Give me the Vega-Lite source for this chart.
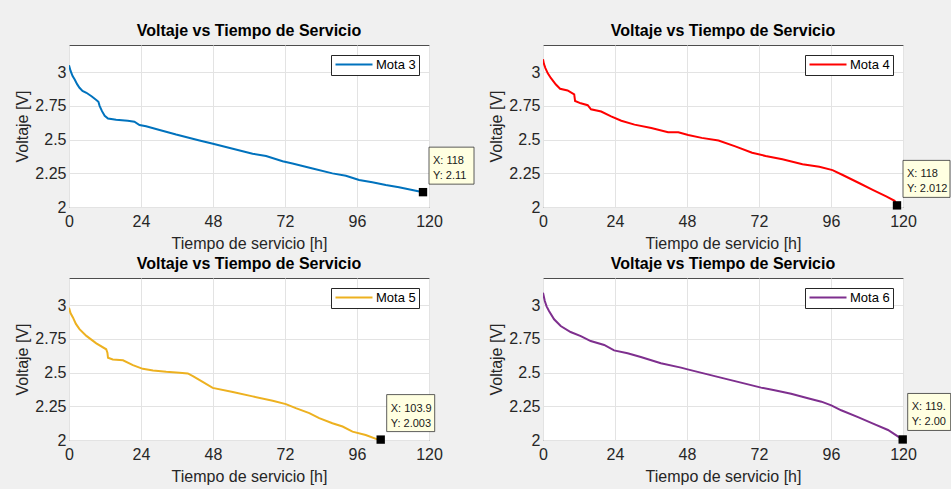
{
  "$schema": "https://vega.github.io/schema/vega-lite/v6.json",
  "background": "#f0f0f0",
  "autosize": {"type": "pad"},
  "padding": {"left": 14, "top": 22, "right": 0, "bottom": 6},
  "columns": 2,
  "spacing": {"row": 71, "column": 114},
  "bounds": "flush",
  "resolve": {"scale": {"color": "independent", "x": "independent", "y": "independent"}, "legend": {"color": "independent"}},
  "datasets": {
    "m3": [
      {"t": 0, "v": 3.05}, {"t": 0.5, "v": 3.01}, {"t": 1.2, "v": 2.97}, {"t": 1.9, "v": 2.944}, {"t": 2.7, "v": 2.91},
      {"t": 3.5, "v": 2.883}, {"t": 4.5, "v": 2.86}, {"t": 5.8, "v": 2.846}, {"t": 7.5, "v": 2.82}, {"t": 9.1, "v": 2.793},
      {"t": 9.8, "v": 2.78}, {"t": 10.2, "v": 2.749}, {"t": 11, "v": 2.71}, {"t": 11.9, "v": 2.676}, {"t": 13, "v": 2.656},
      {"t": 15.7, "v": 2.646}, {"t": 19.6, "v": 2.639}, {"t": 21.8, "v": 2.632}, {"t": 23.5, "v": 2.607}, {"t": 25.7, "v": 2.598},
      {"t": 30.2, "v": 2.571}, {"t": 35.7, "v": 2.537}, {"t": 43.5, "v": 2.493}, {"t": 48, "v": 2.468}, {"t": 54.6, "v": 2.432},
      {"t": 61.2, "v": 2.395}, {"t": 65.7, "v": 2.378}, {"t": 71.2, "v": 2.339}, {"t": 74.5, "v": 2.322}, {"t": 81.2, "v": 2.285},
      {"t": 87.8, "v": 2.249}, {"t": 92.3, "v": 2.232}, {"t": 96.7, "v": 2.2}, {"t": 101.1, "v": 2.183}, {"t": 105.6, "v": 2.163},
      {"t": 110, "v": 2.146}, {"t": 115.6, "v": 2.12}, {"t": 118, "v": 2.11}
    ],
    "m4": [
      {"t": 0, "v": 3.095}, {"t": 0.3, "v": 3.06}, {"t": 0.8, "v": 3.029}, {"t": 1.6, "v": 2.99}, {"t": 2.6, "v": 2.956},
      {"t": 4.3, "v": 2.907}, {"t": 5.7, "v": 2.876}, {"t": 8.2, "v": 2.863}, {"t": 10.4, "v": 2.834}, {"t": 10.7, "v": 2.785},
      {"t": 12.6, "v": 2.768}, {"t": 14.9, "v": 2.754}, {"t": 16, "v": 2.724}, {"t": 19.4, "v": 2.707}, {"t": 22.7, "v": 2.671},
      {"t": 26.1, "v": 2.639}, {"t": 30.5, "v": 2.61}, {"t": 36.1, "v": 2.585}, {"t": 41.7, "v": 2.554}, {"t": 45.1, "v": 2.554},
      {"t": 48.4, "v": 2.534}, {"t": 52.9, "v": 2.512}, {"t": 58.5, "v": 2.493}, {"t": 64.1, "v": 2.449}, {"t": 69.7, "v": 2.402},
      {"t": 74.2, "v": 2.378}, {"t": 79.8, "v": 2.354}, {"t": 86.5, "v": 2.317}, {"t": 92.1, "v": 2.298}, {"t": 96.5, "v": 2.273},
      {"t": 99.9, "v": 2.237}, {"t": 105.5, "v": 2.176}, {"t": 109.9, "v": 2.127}, {"t": 114.4, "v": 2.078}, {"t": 117.2, "v": 2.046},
      {"t": 118, "v": 2.012}
    ],
    "m5": [
      {"t": 0, "v": 2.98}, {"t": 0.5, "v": 2.94}, {"t": 1.3, "v": 2.908}, {"t": 2.3, "v": 2.86}, {"t": 3.5, "v": 2.821},
      {"t": 5.8, "v": 2.771}, {"t": 9.1, "v": 2.716}, {"t": 12.4, "v": 2.672}, {"t": 12.8, "v": 2.647}, {"t": 13, "v": 2.609},
      {"t": 14.6, "v": 2.597}, {"t": 18, "v": 2.59}, {"t": 21.3, "v": 2.555}, {"t": 24.6, "v": 2.527}, {"t": 28, "v": 2.515},
      {"t": 32.4, "v": 2.505}, {"t": 36.8, "v": 2.498}, {"t": 39.6, "v": 2.493}, {"t": 41.3, "v": 2.473}, {"t": 44.7, "v": 2.428},
      {"t": 47.9, "v": 2.386}, {"t": 54.6, "v": 2.356}, {"t": 61.2, "v": 2.323}, {"t": 67.9, "v": 2.291}, {"t": 72.3, "v": 2.266},
      {"t": 75.6, "v": 2.236}, {"t": 80.1, "v": 2.199}, {"t": 83.4, "v": 2.162}, {"t": 87.8, "v": 2.124}, {"t": 91.2, "v": 2.1},
      {"t": 94.5, "v": 2.062}, {"t": 98.9, "v": 2.037}, {"t": 102.8, "v": 2.005}, {"t": 103.9, "v": 2.003}
    ],
    "m6": [
      {"t": 0, "v": 3.091}, {"t": 0.6, "v": 3.03}, {"t": 1.2, "v": 2.99}, {"t": 2, "v": 2.956}, {"t": 3.7, "v": 2.894},
      {"t": 5.9, "v": 2.844}, {"t": 9.2, "v": 2.8}, {"t": 12.6, "v": 2.77}, {"t": 15.9, "v": 2.733}, {"t": 20.4, "v": 2.704},
      {"t": 23.7, "v": 2.664}, {"t": 28.2, "v": 2.642}, {"t": 32.6, "v": 2.615}, {"t": 39.3, "v": 2.568}, {"t": 46, "v": 2.536},
      {"t": 48.2, "v": 2.523}, {"t": 54.9, "v": 2.486}, {"t": 61.6, "v": 2.449}, {"t": 66, "v": 2.425}, {"t": 72.7, "v": 2.388},
      {"t": 77.2, "v": 2.368}, {"t": 82.7, "v": 2.343}, {"t": 88.3, "v": 2.309}, {"t": 92.8, "v": 2.284}, {"t": 96.1, "v": 2.257},
      {"t": 99.4, "v": 2.22}, {"t": 105, "v": 2.17}, {"t": 110.6, "v": 2.116}, {"t": 115, "v": 2.074}, {"t": 118.4, "v": 2.025},
      {"t": 119.9, "v": 2.004}
    ]
  },
  "concat": [
    {
      "width": 360, "height": 162,
      "title": "Voltaje vs Tiempo de Servicio",
      "layer": [
        {"data": {"name": "m3"}, "mark": {"type": "line", "strokeWidth": 2, "clip": true},
         "encoding": {
           "x": {"field": "t", "type": "quantitative", "scale": {"domain": [0, 120], "nice": false}, "axis": {"values": [0, 24, 48, 72, 96, 120], "title": "Tiempo de servicio [h]"}},
           "y": {"field": "v", "type": "quantitative", "scale": {"domain": [2, 3.2], "nice": false, "zero": false}, "axis": {"values": [2, 2.25, 2.5, 2.75, 3], "labelExpr": "toString(datum.value)", "title": "Voltaje [V]"}},
           "color": {"datum": "Mota 3", "type": "nominal", "scale": {"range": ["#0072BD"]}}
         }},
        {"data": {"values": [{"t": 118, "v": 2.11, "label": "X: 118\nY: 2.11"}]},
         "mark": {"type": "point", "shape": "M6,-45H51V-8H6Z", "size": 4, "filled": true, "fill": "#ffffe1", "stroke": "#333333", "strokeWidth": 0.8, "opacity": 1},
         "encoding": {"x": {"field": "t", "type": "quantitative"}, "y": {"field": "v", "type": "quantitative"}}},
        {"data": {"values": [{"t": 118, "v": 2.11, "label": "X: 118\nY: 2.11"}]},
         "mark": {"type": "square", "size": 70, "color": "black", "opacity": 1},
         "encoding": {"x": {"field": "t", "type": "quantitative"}, "y": {"field": "v", "type": "quantitative"}}},
        {"data": {"values": [{"t": 118, "v": 2.11, "label": "X: 118\nY: 2.11"}]},
         "mark": {"type": "text", "align": "left", "baseline": "alphabetic", "dx": 10, "dy": -28, "fontSize": 11, "lineHeight": 15, "lineBreak": "\n", "font": "Liberation Sans", "color": "#1a1a1a"},
         "encoding": {"x": {"field": "t", "type": "quantitative"}, "y": {"field": "v", "type": "quantitative"}, "text": {"field": "label"}}}
      ]
    },
    {
      "width": 360, "height": 162,
      "title": "Voltaje vs Tiempo de Servicio",
      "layer": [
        {"data": {"name": "m4"}, "mark": {"type": "line", "strokeWidth": 2, "clip": true},
         "encoding": {
           "x": {"field": "t", "type": "quantitative", "scale": {"domain": [0, 120], "nice": false}, "axis": {"values": [0, 24, 48, 72, 96, 120], "title": "Tiempo de servicio [h]"}},
           "y": {"field": "v", "type": "quantitative", "scale": {"domain": [2, 3.2], "nice": false, "zero": false}, "axis": {"values": [2, 2.25, 2.5, 2.75, 3], "labelExpr": "toString(datum.value)", "title": "Voltaje [V]"}},
           "color": {"datum": "Mota 4", "type": "nominal", "scale": {"range": ["#FF0000"]}}
         }},
        {"data": {"values": [{"t": 118, "v": 2.012, "label": "X: 118\nY: 2.012"}]},
         "mark": {"type": "point", "shape": "M6,-45H53V-8H6Z", "size": 4, "filled": true, "fill": "#ffffe1", "stroke": "#333333", "strokeWidth": 0.8, "opacity": 1},
         "encoding": {"x": {"field": "t", "type": "quantitative"}, "y": {"field": "v", "type": "quantitative"}}},
        {"data": {"values": [{"t": 118, "v": 2.012, "label": "X: 118\nY: 2.012"}]},
         "mark": {"type": "square", "size": 70, "color": "black", "opacity": 1},
         "encoding": {"x": {"field": "t", "type": "quantitative"}, "y": {"field": "v", "type": "quantitative"}}},
        {"data": {"values": [{"t": 118, "v": 2.012, "label": "X: 118\nY: 2.012"}]},
         "mark": {"type": "text", "align": "left", "baseline": "alphabetic", "dx": 10, "dy": -28, "fontSize": 11, "lineHeight": 15, "lineBreak": "\n", "font": "Liberation Sans", "color": "#1a1a1a", "limit": 43, "ellipsis": "\u200b"},
         "encoding": {"x": {"field": "t", "type": "quantitative"}, "y": {"field": "v", "type": "quantitative"}, "text": {"field": "label"}}}
      ]
    },
    {
      "width": 360, "height": 162,
      "title": "Voltaje vs Tiempo de Servicio",
      "layer": [
        {"data": {"name": "m5"}, "mark": {"type": "line", "strokeWidth": 2, "clip": true},
         "encoding": {
           "x": {"field": "t", "type": "quantitative", "scale": {"domain": [0, 120], "nice": false}, "axis": {"values": [0, 24, 48, 72, 96, 120], "title": "Tiempo de servicio [h]"}},
           "y": {"field": "v", "type": "quantitative", "scale": {"domain": [2, 3.2], "nice": false, "zero": false}, "axis": {"values": [2, 2.25, 2.5, 2.75, 3], "labelExpr": "toString(datum.value)", "title": "Voltaje [V]"}},
           "color": {"datum": "Mota 5", "type": "nominal", "scale": {"range": ["#EDB120"]}}
         }},
        {"data": {"values": [{"t": 103.9, "v": 2.003, "label": "X: 103.9\nY: 2.003"}]},
         "mark": {"type": "point", "shape": "M6,-45H54V-8H6Z", "size": 4, "filled": true, "fill": "#ffffe1", "stroke": "#333333", "strokeWidth": 0.8, "opacity": 1},
         "encoding": {"x": {"field": "t", "type": "quantitative"}, "y": {"field": "v", "type": "quantitative"}}},
        {"data": {"values": [{"t": 103.9, "v": 2.003, "label": "X: 103.9\nY: 2.003"}]},
         "mark": {"type": "square", "size": 70, "color": "black", "opacity": 1},
         "encoding": {"x": {"field": "t", "type": "quantitative"}, "y": {"field": "v", "type": "quantitative"}}},
        {"data": {"values": [{"t": 103.9, "v": 2.003, "label": "X: 103.9\nY: 2.003"}]},
         "mark": {"type": "text", "align": "left", "baseline": "alphabetic", "dx": 10, "dy": -28, "fontSize": 11, "lineHeight": 15, "lineBreak": "\n", "font": "Liberation Sans", "color": "#1a1a1a"},
         "encoding": {"x": {"field": "t", "type": "quantitative"}, "y": {"field": "v", "type": "quantitative"}, "text": {"field": "label"}}}
      ]
    },
    {
      "width": 360, "height": 162,
      "title": "Voltaje vs Tiempo de Servicio",
      "layer": [
        {"data": {"name": "m6"}, "mark": {"type": "line", "strokeWidth": 2, "clip": true},
         "encoding": {
           "x": {"field": "t", "type": "quantitative", "scale": {"domain": [0, 120], "nice": false}, "axis": {"values": [0, 24, 48, 72, 96, 120], "title": "Tiempo de servicio [h]"}},
           "y": {"field": "v", "type": "quantitative", "scale": {"domain": [2, 3.2], "nice": false, "zero": false}, "axis": {"values": [2, 2.25, 2.5, 2.75, 3], "labelExpr": "toString(datum.value)", "title": "Voltaje [V]"}},
           "color": {"datum": "Mota 6", "type": "nominal", "scale": {"range": ["#7E2F8E"]}}
         }},
        {"data": {"values": [{"t": 119.9, "v": 2.004, "label": "X: 119.9\nY: 2.004"}]},
         "mark": {"type": "point", "shape": "M5,-46H48V-9H5Z", "size": 4, "filled": true, "fill": "#ffffe1", "stroke": "#333333", "strokeWidth": 0.8, "opacity": 1},
         "encoding": {"x": {"field": "t", "type": "quantitative"}, "y": {"field": "v", "type": "quantitative"}}},
        {"data": {"values": [{"t": 119.9, "v": 2.004, "label": "X: 119.9\nY: 2.004"}]},
         "mark": {"type": "square", "size": 70, "color": "black", "opacity": 1},
         "encoding": {"x": {"field": "t", "type": "quantitative"}, "y": {"field": "v", "type": "quantitative"}}},
        {"data": {"values": [{"t": 119.9, "v": 2.004, "label": "X: 119.9\nY: 2.004"}]},
         "mark": {"type": "text", "align": "left", "baseline": "alphabetic", "dx": 9, "dy": -29, "fontSize": 11, "lineHeight": 15, "lineBreak": "\n", "font": "Liberation Sans", "color": "#1a1a1a", "limit": 39, "ellipsis": "\u200b"},
         "encoding": {"x": {"field": "t", "type": "quantitative"}, "y": {"field": "v", "type": "quantitative"}, "text": {"field": "label"}}}
      ]
    }
  ],
  "config": {
    "font": "Liberation Sans",
    "view": {"fill": "white", "stroke": "#4d4d4d", "strokeWidth": 1},
    "title": {"font": "Liberation Sans", "fontSize": 16, "fontWeight": "bold", "color": "black", "offset": 6, "anchor": "middle"},
    "axis": {"labelFont": "Liberation Sans", "titleFont": "Liberation Sans", "labelFontSize": 16, "titleFontSize": 16, "titleFontWeight": "normal", "labelColor": "#262626", "titleColor": "#262626", "grid": true, "gridColor": "#e3e3e3", "gridWidth": 1, "ticks": false, "domain": false, "labelFlush": false, "labelOverlap": false},
    "axisX": {"labelPadding": 6, "titlePadding": 6},
    "axisY": {"labelPadding": 3, "titlePadding": 4},
    "legend": {"orient": "top-right", "offset": 10, "title": null, "strokeColor": "#262626", "fillColor": "white", "padding": 3, "labelFontSize": 13, "labelFont": "Liberation Sans", "labelColor": "black", "symbolType": "M-1,0H6.4", "symbolSize": 100, "symbolStrokeWidth": 2, "labelOffset": 29, "cornerRadius": 0}
  }
}
